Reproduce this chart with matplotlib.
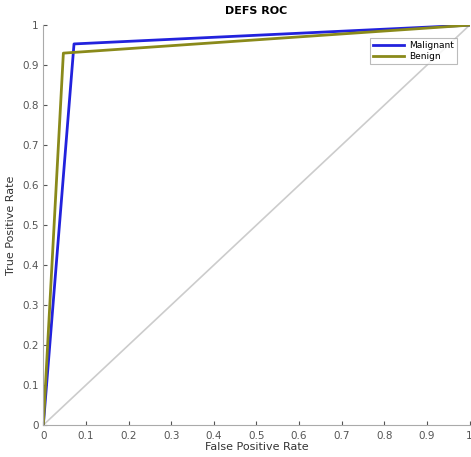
import matplotlib
matplotlib.use('Agg')
from matplotlib import pyplot as plt

# ROC points
fpr_malignant = [0.0, 0.072, 1.0]
tpr_malignant = [0.0, 0.953, 1.0]
fpr_benign = [0.0, 0.047, 1.0]
tpr_benign = [0.0, 0.930, 1.0]
chance = [0.0, 1.0]

fig = plt.figure(figsize=(4.71, 4.57), dpi=100)
ax = fig.add_axes([0.092, 0.070, 0.905, 0.875])

ax.plot(chance, chance, color='#cccccc', lw=1.2)
ax.plot(fpr_malignant, tpr_malignant, color='#2222dd', lw=2, label='Malignant')
ax.plot(fpr_benign, tpr_benign, color='#8a8a1a', lw=2, label='Benign')

ax.set_xlim(0, 1)
ax.set_ylim(0, 1)
ax.set_xticks([i / 10 for i in range(11)])
ax.set_yticks([i / 10 for i in range(11)])
ax.set_xticklabels(['0', '0.1', '0.2', '0.3', '0.4', '0.5', '0.6', '0.7', '0.8', '0.9', '1'])
ax.set_yticklabels(['0', '0.1', '0.2', '0.3', '0.4', '0.5', '0.6', '0.7', '0.8', '0.9', '1'])
for s in ['top', 'right']:
    ax.spines[s].set_visible(False)
for s in ['left', 'bottom']:
    ax.spines[s].set_color('#aaaaaa')
ax.tick_params(colors='#555555', labelsize=7.5, length=3, width=0.8, direction='in')
ax.tick_params(axis='x', pad=4)

ax.set_xlabel('False Positive Rate', fontsize=8, color='#333333', labelpad=1)
ax.set_ylabel('True Positive Rate', fontsize=8, color='#333333', labelpad=4)
ax.set_title('DEFS ROC', fontsize=8, fontweight='bold', pad=8)

leg = ax.legend(loc='upper right', bbox_to_anchor=(0.98, 0.978), fontsize=6.5, frameon=True,
                fancybox=False, handlelength=3.5, borderpad=0.3, labelspacing=0.2,
                handletextpad=0.5)
leg.get_frame().set_edgecolor('#aaaaaa')
leg.get_frame().set_linewidth(0.8)

fig.savefig('out.png', dpi=100)
